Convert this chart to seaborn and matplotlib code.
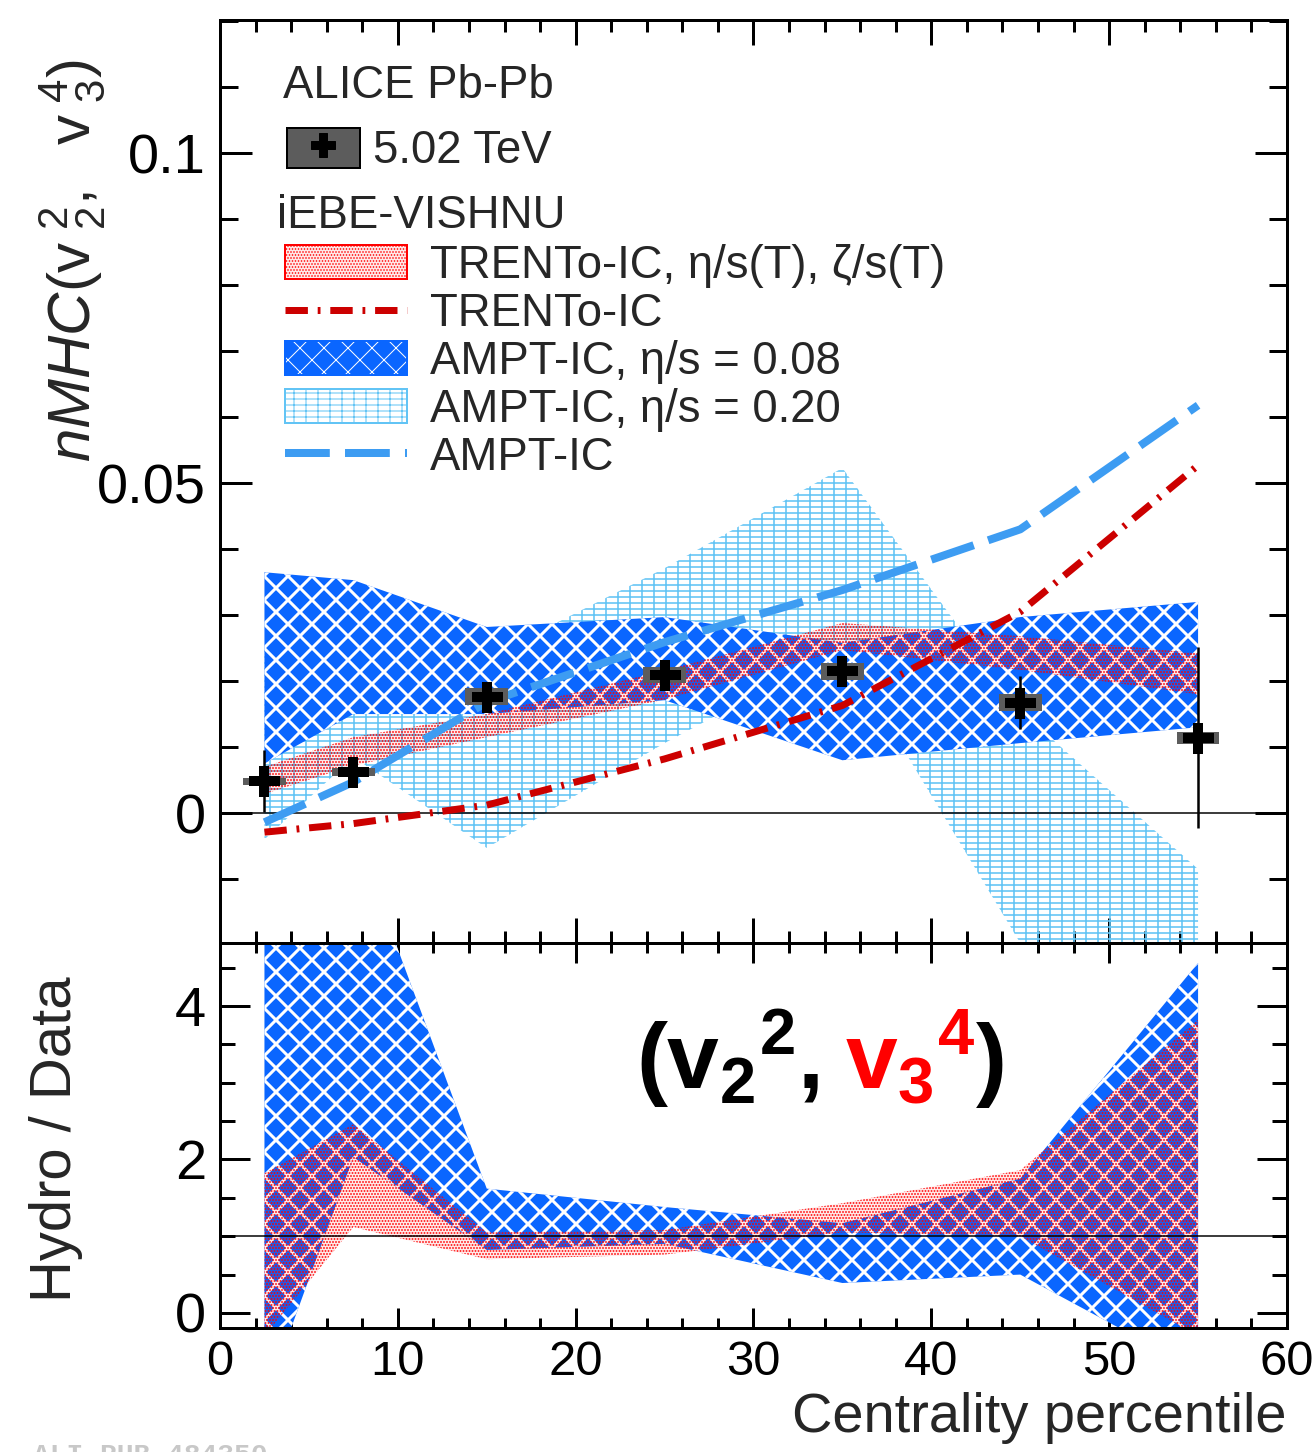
import numpy as np
import pandas as pd
import matplotlib
matplotlib.use("Agg")
import matplotlib.pyplot as plt
import seaborn as sns
from matplotlib.patches import Patch
from matplotlib.lines import Line2D
from matplotlib.legend_handler import HandlerTuple
from matplotlib.offsetbox import TextArea, HPacker, AnchoredOffsetbox
from matplotlib.ticker import MultipleLocator, FixedLocator, FixedFormatter

# ---------------- data ----------------
centrality = [2.5, 7.5, 15, 25, 35, 45, 55]

alice_nmhc = [0.0048, 0.0062, 0.0176, 0.0209, 0.0215, 0.0167, 0.0114]
alice_stat = [0.0047, 0.0006, 0.0008, 0.0012, 0.0012, 0.0040, 0.0137]
alice_sys = [0.0005, 0.0006, 0.0013, 0.0012, 0.0013, 0.0013, 0.0009]

trento_T_lo = [0.0029, 0.0072, 0.0115, 0.0172, 0.0247, 0.0217, 0.0180]
trento_T_hi = [0.0070, 0.0115, 0.0150, 0.0216, 0.0288, 0.0268, 0.0242]
trento_line = [-0.0029, -0.0016, 0.0012, 0.0082, 0.0163, 0.0305, 0.0527]
ampt008_lo = [0.0075, 0.0150, 0.0150, 0.0171, 0.0080, 0.0106, 0.0130]
ampt008_hi = [0.0365, 0.0353, 0.0282, 0.0297, 0.0258, 0.0297, 0.0320]
ampt020_lo = [-0.0040, 0.0085, -0.0053, 0.0106, 0.0250, -0.0197, -0.0350]
ampt020_hi = [0.0250, 0.0250, 0.0235, 0.0371, 0.0523, 0.0155, -0.0085]
ampt_line = [-0.0014, 0.0047, 0.0168, 0.0259, 0.0338, 0.0430, 0.0618]

ratio_trento_lo = [-0.30, 1.12, 0.70, 0.76, 1.05, 1.00, -0.30]
ratio_trento_hi = [1.82, 2.46, 1.05, 1.08, 1.43, 1.86, 3.82]
ratio_ampt_lo = [-1.15, 2.03, 0.82, 0.90, 0.39, 0.50, -0.75]
ratio_ampt_hi = [6.00, 6.30, 1.62, 1.38, 1.17, 1.75, 4.56]

top_yticks = [0, 0.05, 0.1]
top_yticklabels = ["0", "0.05", "0.1"]
bot_yticks = [0, 2, 4]
bot_yticklabels = ["0", "2", "4"]
xticks = [0, 10, 20, 30, 40, 50, 60]

# ---------------- style ----------------
sns.set_theme(style="ticks")
plt.rcParams["font.family"] = ["Liberation Sans", "DejaVu Sans"]
plt.rcParams["mathtext.fontset"] = "custom"
plt.rcParams["mathtext.rm"] = "Liberation Sans"
plt.rcParams["mathtext.it"] = "Liberation Sans:italic"
plt.rcParams["mathtext.bf"] = "Liberation Sans:bold"
plt.rcParams["axes.edgecolor"] = "black"
plt.rcParams["xtick.color"] = "black"
plt.rcParams["ytick.color"] = "black"

RED = "#ff0000"
DKRED = "#cc0000"
BLUE = "#0a66ff"
LIGHT = "#62c4f5"
DASHBLUE = "#3d9cf2"
GRAY = "#5c5c5c"
RED_FACE = (1, 0, 0, 0.09)

DPI = 72
fig = plt.figure(figsize=(1312 / DPI, 1452 / DPI), dpi=DPI)
ax = fig.add_axes([0.16768, 0.35055, 0.81326, 0.63567])
ax2 = fig.add_axes([0.16768, 0.0854, 0.81326, 0.26515])


def hatched_band(axis, lo, hi, face, edge, hatch, hlw, z):
    with plt.rc_context({"hatch.linewidth": hlw}):
        coll = axis.fill_between(centrality, lo, hi, facecolor=face, edgecolor=edge,
                                 hatch=hatch, linewidth=0, zorder=z)
    if hasattr(coll, "set_hatch_linewidth"):
        coll.set_hatch_linewidth(hlw)
    return coll


# ---------------- top panel ----------------
hatched_band(ax, ampt020_lo, ampt020_hi, "none", LIGHT, "+-", 1.6, 1)
hatched_band(ax, ampt008_lo, ampt008_hi, BLUE, "white", "x", 3.0, 2)
hatched_band(ax, trento_T_lo, trento_T_hi, RED_FACE, RED, "....", 1.2, 3)

ax.axhline(0, color="black", lw=1.5, zorder=3.5)

sns.lineplot(x=centrality, y=trento_line, ax=ax, color=DKRED, lw=7,
             linestyle=(0, (3.2, 1.4, 0.4, 1.4)), sort=False, estimator=None, zorder=4)
sns.lineplot(x=centrality, y=ampt_line, ax=ax, color=DASHBLUE, lw=8,
             linestyle=(0, (5.6, 1.9)), sort=False, estimator=None, zorder=4)

ax.bar(centrality, [2 * s for s in alice_sys],
       bottom=[y - s for y, s in zip(alice_nmhc, alice_sys)],
       width=2.4, color=GRAY, edgecolor="none", zorder=5)
ax.errorbar(centrality, alice_nmhc, yerr=alice_stat, fmt="none", ecolor="black",
            elinewidth=2.5, capsize=0, zorder=6)
sns.scatterplot(x=centrality, y=alice_nmhc, ax=ax, marker="P", s=31 ** 2,
                color="black", linewidth=0, zorder=7)

ax.set_xlim(0, 60)
ax.set_ylim(-0.0197, 0.1202)
ax.xaxis.set_major_locator(FixedLocator(xticks))
ax.xaxis.set_minor_locator(MultipleLocator(2))
ax.yaxis.set_major_locator(FixedLocator(top_yticks))
ax.yaxis.set_major_formatter(FixedFormatter(top_yticklabels))
ax.yaxis.set_minor_locator(MultipleLocator(0.01))
ax.tick_params(which="both", direction="in", top=True, right=True, width=3,
               labelbottom=False, labelsize=56, pad=14)
ax.tick_params(axis="x", which="major", length=25)
ax.tick_params(axis="x", which="minor", length=12)
ax.tick_params(axis="y", which="major", length=32)
ax.tick_params(axis="y", which="minor", length=18)
for sp in ax.spines.values():
    sp.set_linewidth(3)
    sp.set_color("black")
    sp.set_zorder(10)

ax.set_ylabel(r"$\mathit{nMHC}\mathrm{(v_{\ 2}^{\ 2},\ \ v_{\ 3}^{\ 4})}$", fontsize=60)
ax.yaxis.label.set_horizontalalignment("right")
ax.yaxis.set_label_coords(-0.106, 0.957)

# header texts
ax.text(0.059, 0.9155, "ALICE Pb-Pb", transform=ax.transAxes, fontsize=45.5,
        va="baseline", ha="left")
ax.text(0.053, 0.7746, "iEBE-VISHNU", transform=ax.transAxes, fontsize=45.5,
        va="baseline", ha="left")

# data legend
data_handle = (Patch(facecolor=GRAY, edgecolor="black", linewidth=2),
               Line2D([], [], marker="P", color="black", ms=24, ls="none"))
leg1 = ax.legend([data_handle], ["5.02 TeV"], loc="upper left",
                 bbox_to_anchor=(0.0628, 0.8835), frameon=False, fontsize=45.5,
                 handlelength=1.6, handleheight=0.98, handletextpad=0.3,
                 borderpad=0, borderaxespad=0, numpoints=1,
                 handler_map={tuple: HandlerTuple(ndivide=1)})
ax.add_artist(leg1)

with plt.rc_context({"hatch.linewidth": 1.2}):
    h_red = (Patch(facecolor=RED_FACE, edgecolor=RED, hatch="....", linewidth=0),
             Patch(facecolor="none", edgecolor=RED, linewidth=2))
with plt.rc_context({"hatch.linewidth": 3.0}):
    h_blue = (Patch(facecolor=BLUE, edgecolor="white", hatch="x", linewidth=0),
              Patch(facecolor="none", edgecolor=BLUE, linewidth=2))
with plt.rc_context({"hatch.linewidth": 1.6}):
    h_light = (Patch(facecolor="none", edgecolor=LIGHT, hatch="+-", linewidth=0),
               Patch(facecolor="none", edgecolor=LIGHT, linewidth=2))
for hh, w in ((h_red, 1.2), (h_blue, 3.0), (h_light, 1.6)):
    if hasattr(hh[0], "set_hatch_linewidth"):
        hh[0].set_hatch_linewidth(w)
h_trento = Line2D([], [], color=DKRED, lw=7, linestyle=(0, (3.2, 1.4, 0.4, 1.4)))
h_ampt = Line2D([], [], color=DASHBLUE, lw=8, linestyle=(0, (5.6, 1.9)))

leg2 = ax.legend([h_red, h_trento, h_blue, h_light, h_ampt],
                 ["TRENTo-IC, η/s(T), ζ/s(T)", "TRENTo-IC", "AMPT-IC, η/s = 0.08",
                  "AMPT-IC, η/s = 0.20", "AMPT-IC"],
                 loc="upper left", bbox_to_anchor=(0.0609, 0.7573), frameon=False,
                 fontsize=45.5, handlelength=2.68, handleheight=0.75,
                 handletextpad=0.5, labelspacing=0.086, borderpad=0,
                 borderaxespad=0, handler_map={tuple: HandlerTuple(ndivide=1)})

# ---------------- bottom panel ----------------
hatched_band(ax2, ratio_ampt_lo, ratio_ampt_hi, BLUE, "white", "x", 3.0, 2)
hatched_band(ax2, ratio_trento_lo, ratio_trento_hi, RED_FACE, RED, "....", 1.2, 3)
ax2.axhline(1, color="black", lw=1.5, zorder=4)

ax2.set_xlim(0, 60)
ax2.set_ylim(-0.196, 4.82)
ax2.xaxis.set_major_locator(FixedLocator(xticks))
ax2.xaxis.set_minor_locator(MultipleLocator(2))
ax2.yaxis.set_major_locator(FixedLocator(bot_yticks))
ax2.yaxis.set_major_formatter(FixedFormatter(bot_yticklabels))
ax2.yaxis.set_minor_locator(MultipleLocator(0.5))
ax2.tick_params(which="both", direction="in", top=True, right=True, width=3)
ax2.tick_params(axis="y", pad=14, labelsize=56)
ax2.tick_params(axis="x", pad=12, labelsize=49)
ax2.tick_params(axis="x", which="major", length=20)
ax2.tick_params(axis="x", which="minor", length=10)
ax2.tick_params(axis="y", which="major", length=30)
ax2.tick_params(axis="y", which="minor", length=15)
for sp in ax2.spines.values():
    sp.set_linewidth(3)
    sp.set_color("black")
    sp.set_zorder(10)

ax2.set_ylabel("Hydro / Data", fontsize=58)
ax2.yaxis.set_label_coords(-0.128, 0.49)
ax2.set_xlabel("Centrality percentile", fontsize=56)
ax2.xaxis.label.set_horizontalalignment("right")
ax2.xaxis.set_label_coords(1.0, -0.165)

# (v2^2, v3^4) annotation
tp_b = dict(color="black", fontsize=93)
tp_r = dict(color=RED, fontsize=93)
ta1 = TextArea(r"$\mathbf{(v}_{\mathbf{2}}{}^{\mathbf{2}}\mathbf{,}$", textprops=tp_b)
ta_sp = TextArea(" ", textprops=tp_b)
ta2 = TextArea(r"$\mathbf{v}_{\mathbf{3}}{}^{\mathbf{4}}$", textprops=tp_r)
ta3 = TextArea(r"$\mathbf{)}$", textprops=tp_b)
pack = HPacker(children=[ta1, ta_sp, ta2, ta3], align="baseline", pad=0, sep=0)
anch = AnchoredOffsetbox(loc="center", child=pack, bbox_to_anchor=(0.562, 0.70),
                         bbox_transform=ax2.transAxes, frameon=False, pad=0,
                         borderpad=0)
ax2.add_artist(anch)

fig.text(0.025, 0.0062, "ALI-PUB-484350", fontsize=28, family="Liberation Mono",
         color="#c8c8c8", va="top", ha="left", fontweight="bold")

fig.savefig("out.png", dpi=DPI)
